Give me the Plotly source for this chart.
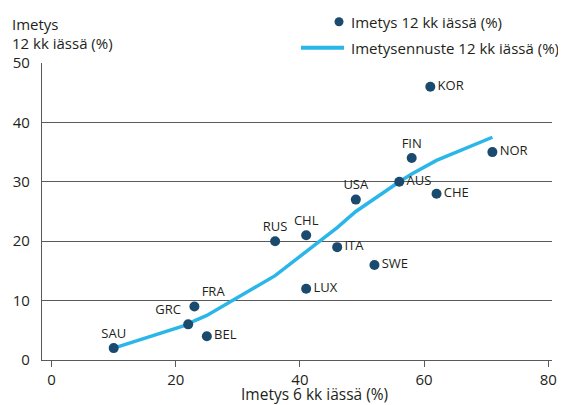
import plotly.graph_objects as go

# ---- data ----
countries = ["SAU", "GRC", "FRA", "BEL", "LUX", "RUS", "CHL", "ITA", "SWE",
             "USA", "AUS", "FIN", "CHE", "NOR", "KOR"]
bf6 = [10, 22, 23, 25, 41, 36, 41, 46, 52, 49, 56, 58, 62, 71, 61]
bf12 = [2, 6, 9, 4, 12, 20, 21, 19, 16, 27, 30, 34, 28, 35, 46]
label_pos = ["top center", "top left", "top right", "middle right", "middle right",
             "top center", "top center", "middle right", "middle right",
             "top center", "middle right", "top center", "middle right",
             "middle right", "middle right"]

pred_x = [10, 22, 23, 25, 36, 41, 46, 49, 52, 56, 58, 61, 62, 71]
pred_y = [2, 6, 6.6, 7.5, 14.2, 18.2, 22.3, 25, 27.2, 30, 31.3, 33, 33.6, 37.5]

y_ticks = [0, 10, 20, 30, 40, 50]
x_ticks = [0, 20, 40, 60, 80]

series_points = "Imetys 12 kk iässä (%)"
series_line = "Imetysennuste 12 kk iässä (%)"
x_title = "Imetys 6 kk iässä (%)"
y_title = ["Imetys", "12 kk iässä (%)"]

# ---- style ----
OFF = 8                     # page body margin of the html page
W, H = 566 - OFF, 405 - OFF
ML, MR, MT, MB = 34, 14, 55, 45
NAVY = "#1b4a6f"
BLUE = "#2ab6e9"
GRID = "#5a5a5a"
TXT = "#231f20"
FONT = "Open Sans"

def px(x):
    return (x - OFF - ML) / (W - ML - MR)

def py(y):
    return (H - MB - (y - OFF)) / (H - MT - MB)

fig = go.Figure()
fig.add_trace(go.Scatter(
    x=pred_x, y=pred_y, mode="lines", name=series_line,
    line=dict(color=BLUE, width=3.5), hoverinfo="skip"))
fig.add_trace(go.Scatter(
    x=bf6, y=bf12, mode="markers+text", name=series_points,
    text=countries, textposition=label_pos,
    textfont=dict(family=FONT, size=13, color=TXT),
    marker=dict(color=NAVY, size=10)))

fig.update_layout(
    width=W, height=H,
    margin=dict(l=ML, r=MR, t=MT, b=MB, pad=0, autoexpand=False),
    paper_bgcolor="white", plot_bgcolor="white",
    showlegend=False,
    font=dict(family=FONT, size=15, color=TXT),
    xaxis=dict(range=[-1.55, 80.6], tickvals=x_ticks, showgrid=False,
               automargin=False,
               zeroline=False, showline=True, linecolor=GRID, linewidth=1.3,
               ticks="outside", ticklen=6, tickcolor=GRID, tickwidth=1.3,
               tickfont=dict(size=15, color=TXT)),
    yaxis=dict(range=[0, 50], tickvals=y_ticks, showgrid=True,
               automargin=False,
               gridcolor=GRID, gridwidth=1.3, zeroline=False,
               showline=True, linecolor=GRID, linewidth=1.3,
               ticks="", ticklabelstandoff=8,
               tickfont=dict(size=15, color=TXT)),
)

annotations = [
    dict(text=x_title, x=px(314), y=py(394), xref="paper", yref="paper",
         xanchor="center", yanchor="middle", showarrow=False,
         font=dict(size=15.5, color=TXT)),
    dict(text=y_title[0], x=px(10), y=py(24), xref="paper", yref="paper",
         xanchor="left", yanchor="middle", showarrow=False,
         font=dict(size=15, color=TXT)),
    dict(text=y_title[1], x=px(10), y=py(42.5), xref="paper", yref="paper",
         xanchor="left", yanchor="middle", showarrow=False,
         font=dict(size=15, color=TXT)),
    dict(text=series_points, x=px(349), y=py(21.5), xref="paper", yref="paper",
         xanchor="left", yanchor="middle", showarrow=False,
         font=dict(size=15, color=TXT)),
    dict(text=series_line, x=px(349), y=py(47.5), xref="paper", yref="paper",
         xanchor="left", yanchor="middle", showarrow=False,
         font=dict(size=15, color=TXT)),
]
fig.update_layout(annotations=annotations)

fig.add_shape(type="circle", xref="paper", yref="paper",
              x0=px(334.5), x1=px(343.5), y0=py(26.2), y1=py(17.2),
              fillcolor=NAVY, line=dict(width=0))
fig.add_shape(type="line", xref="paper", yref="paper",
              x0=px(301), x1=px(344), y0=py(47.7), y1=py(47.7),
              line=dict(color=BLUE, width=4))

fig.write_html("out.html")
